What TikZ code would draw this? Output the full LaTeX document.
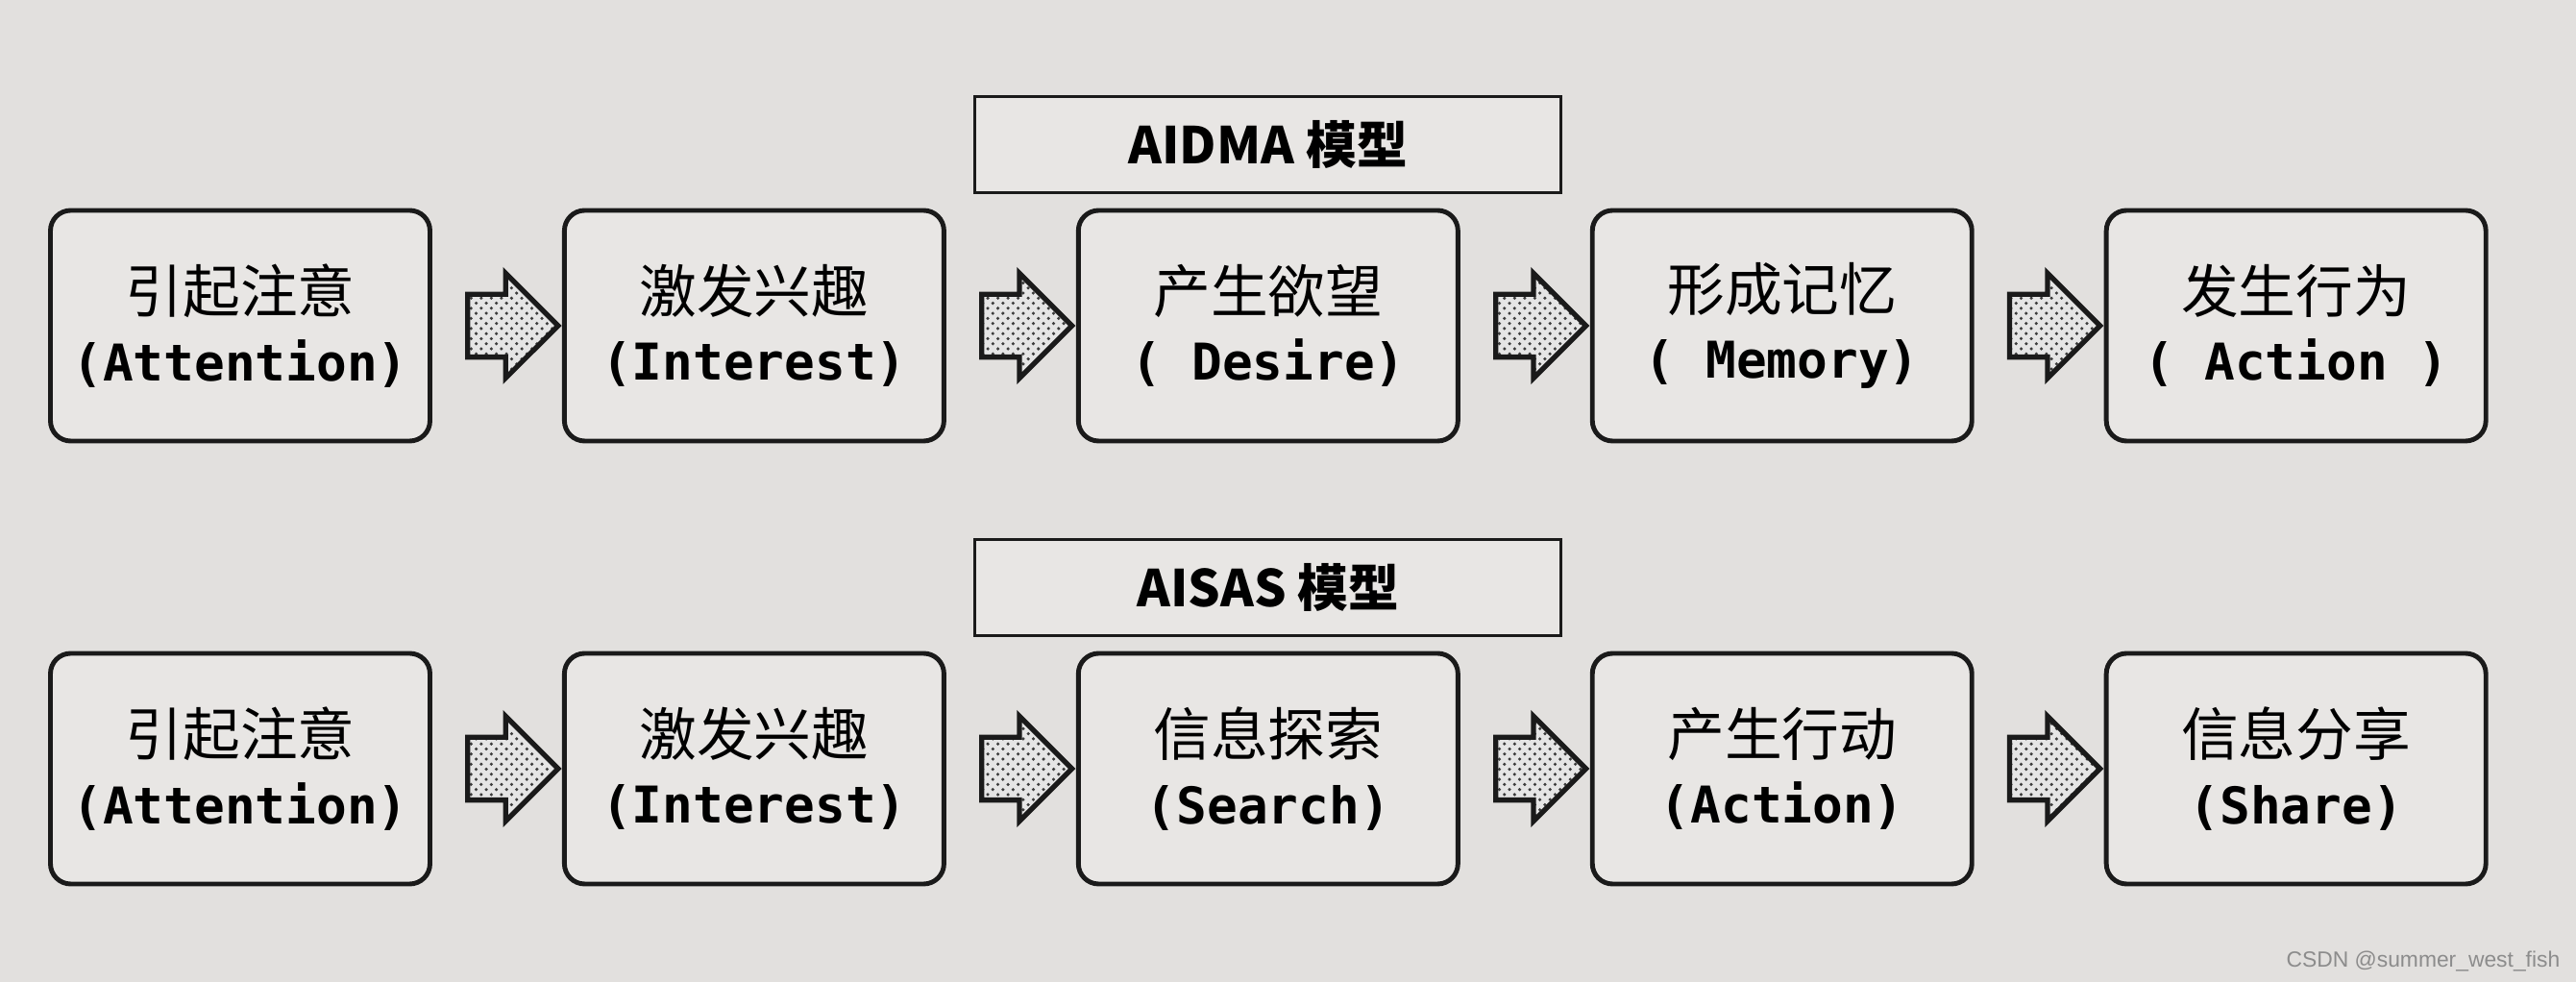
\documentclass[tikz,border=0pt]{standalone}
\usepackage{fontspec}
\setmonofont{DejaVu Sans Mono}
\newfontfamily\cjk{Noto Sans CJK SC}
\newfontfamily\wmfont{Liberation Sans}
\usetikzlibrary{positioning,calc,shapes.arrows,patterns}
\definecolor{paper}{HTML}{E2E0DE}
\definecolor{boxpaper}{HTML}{E8E6E4}
\definecolor{ink}{HTML}{1A1A1A}
\newcommand{\stagelabel}[2]{{\cjk\fontsize{17}{20}\selectfont #1}\\[1pt]{\ttfamily\bfseries #2}}

\begin{document}
\begin{tikzpicture}[
    stage/.style={draw=ink, line width=1.4pt, rounded corners=6pt, fill=boxpaper, align=center,
                  minimum width=3.95cm, minimum height=2.4cm, inner sep=2pt,
                  font=\fontsize{15}{19}\selectfont},
    model/.style={draw=ink, line width=0.8pt, fill=boxpaper, minimum width=6.1cm, minimum height=1cm,
                  font=\cjk\fontsize{15}{18}\selectfont\bfseries},
    flow/.style={single arrow, draw=ink, line width=1.5pt, minimum height=0.94cm,
                 single arrow head extend=0.22cm, inner xsep=0pt, inner ysep=0.3cm,
                 preaction={fill=white!80!gray}, pattern=crosshatch dots, pattern color=ink!85},
    node distance=1.35cm]
  \fill[paper] (0,0) rectangle (26.81,10.22);

  % AIDMA
  \node[stage] (m1) at (2.5,6.83) {\stagelabel{引起注意}{(Attention)}};
  \node[stage, right=of m1] (m2) {\stagelabel{激发兴趣}{(Interest)}};
  \node[stage, right=of m2] (m3) {\stagelabel{产生欲望}{( Desire)}};
  \node[stage, right=of m3] (m4) {\stagelabel{形成记忆}{( Memory)}};
  \node[stage, right=of m4] (m5) {\stagelabel{发生行为}{( Action )}};
  \node[model, above=1.5mm of m3] (aidma) {AIDMA 模型};
  \foreach \a/\b in {m1/m2, m2/m3, m3/m4, m4/m5}
    \node[flow] (f\a) at ($(\a.east)!.5!(\b.west)$) {};

  % AISAS
  \node[stage] (s1) at (2.5,2.22) {\stagelabel{引起注意}{(Attention)}};
  \node[stage, right=of s1] (s2) {\stagelabel{激发兴趣}{(Interest)}};
  \node[stage, right=of s2] (s3) {\stagelabel{信息探索}{(Search)}};
  \node[stage, right=of s3] (s4) {\stagelabel{产生行动}{(Action)}};
  \node[stage, right=of s4] (s5) {\stagelabel{信息分享}{(Share)}};
  \node[model, above=1.5mm of s3] (aisas) {AISAS 模型};
  \foreach \a/\b in {s1/s2, s2/s3, s3/s4, s4/s5}
    \node[flow] (f\a) at ($(\a.east)!.5!(\b.west)$) {};

  \node[anchor=south east, text=gray!90, font=\wmfont\fontsize{6.5}{8}\selectfont, inner sep=0pt]
    (wm) at (26.65,0.1) {CSDN @summer\_west\_fish};
\end{tikzpicture}
\end{document}
